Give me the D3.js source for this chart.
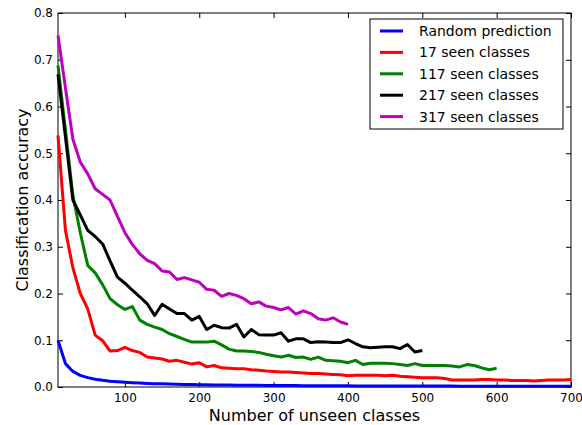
<!DOCTYPE html>
<html>
<head>
<meta charset="utf-8">
<script src="https://cdn.jsdelivr.net/npm/d3@7"></script>
<style>
  body { margin: 0; background: #fff; }
  text { font-family: "DejaVu Sans", sans-serif; }
</style>
</head>
<body>
<svg id="chart" width="582" height="425"></svg>
<script>
// number of unseen classes, step 10
const step = 10;
const xTicks = [100, 200, 300, 400, 500, 600, 700];
const yTicks = [0.0, 0.1, 0.2, 0.3, 0.4, 0.5, 0.6, 0.7, 0.8];

const seriesNames = ['Random prediction', '17 seen classes', '117 seen classes', '217 seen classes', '317 seen classes'];
const seriesColors = ['#0000ff', '#ff0000', '#008000', '#000000', '#bf00bf'];

// values, x = 10, 20, 30, ...
const randomPred = [
  0.1, 0.05, 0.0333, 0.025, 0.02, 0.0167, 0.0143, 0.0125, 0.0111, 0.01,
  0.0091, 0.0083, 0.0077, 0.0071, 0.0067, 0.0063, 0.0059, 0.0056, 0.0053, 0.005,
  0.0048, 0.0045, 0.0043, 0.0042, 0.004, 0.0038, 0.0037, 0.0036, 0.0034, 0.0033,
  0.0032, 0.0031, 0.003, 0.0029, 0.0029, 0.0028, 0.0027, 0.0026, 0.0026, 0.0025,
  0.0024, 0.0024, 0.0023, 0.0023, 0.0022, 0.0022, 0.0021, 0.0021, 0.002, 0.002,
  0.002, 0.0019, 0.0019, 0.0019, 0.0018, 0.0018, 0.0018, 0.0017, 0.0017, 0.0017,
  0.0016, 0.0016, 0.0016, 0.0016, 0.0015, 0.0015, 0.0015, 0.0015, 0.0014, 0.0014
];
const seen17 = [
  0.538, 0.335, 0.255, 0.2, 0.167, 0.111, 0.099, 0.077, 0.078, 0.085,
  0.078, 0.074, 0.064, 0.062, 0.06, 0.055, 0.057, 0.053, 0.049, 0.052,
  0.043, 0.046, 0.041, 0.04, 0.039, 0.039, 0.037, 0.036, 0.034, 0.033,
  0.032, 0.032, 0.031, 0.03, 0.029, 0.029, 0.028, 0.027, 0.026, 0.024,
  0.025, 0.025, 0.025, 0.025, 0.024, 0.025, 0.023, 0.022, 0.021, 0.02,
  0.02, 0.02, 0.018, 0.015, 0.015, 0.015, 0.015, 0.016, 0.016, 0.015,
  0.015, 0.014, 0.014, 0.014, 0.013, 0.014, 0.015, 0.015, 0.015, 0.016
];
const seen117 = [
  0.688, 0.55, 0.41, 0.33, 0.26, 0.244, 0.219, 0.189, 0.176, 0.166,
  0.172, 0.143, 0.134, 0.128, 0.123, 0.114, 0.108, 0.102, 0.096, 0.096,
  0.096, 0.098, 0.09, 0.081, 0.077, 0.077, 0.076, 0.074, 0.07, 0.067,
  0.064, 0.068, 0.063, 0.064, 0.059, 0.064, 0.057, 0.056, 0.055, 0.052,
  0.057, 0.048, 0.051, 0.051, 0.051, 0.05, 0.048, 0.046, 0.05, 0.046,
  0.046, 0.046, 0.046, 0.045, 0.043, 0.048, 0.046, 0.041, 0.037, 0.04
];
const seen217 = [
  0.669, 0.535, 0.40, 0.368, 0.335, 0.322, 0.306, 0.27, 0.235, 0.222,
  0.207, 0.193, 0.178, 0.153, 0.177, 0.167, 0.157, 0.157, 0.143, 0.151,
  0.123, 0.132, 0.127, 0.126, 0.134, 0.107, 0.123, 0.112, 0.111, 0.111,
  0.116, 0.098, 0.103, 0.103, 0.095, 0.097, 0.096, 0.095, 0.095, 0.101,
  0.093, 0.086, 0.084, 0.085, 0.086, 0.086, 0.082, 0.091, 0.075, 0.078
];
const seen317 = [
  0.752, 0.64, 0.53, 0.481, 0.456, 0.424, 0.412, 0.40, 0.365, 0.33,
  0.305, 0.285, 0.271, 0.264, 0.248, 0.246, 0.23, 0.234, 0.229, 0.224,
  0.209, 0.207, 0.194, 0.2, 0.196, 0.189, 0.178, 0.182, 0.173, 0.17,
  0.165, 0.17, 0.156, 0.163, 0.157, 0.146, 0.143, 0.148, 0.139, 0.134
];

const allSeries = [randomPred, seen17, seen117, seen217, seen317];

const margin = { top: 13, right: 11, bottom: 38, left: 58 };
const width = 582 - margin.left - margin.right;
const height = 425 - margin.top - margin.bottom;

const svg = d3.select('#chart');
const g = svg.append('g').attr('transform', `translate(${margin.left},${margin.top})`);

const x = d3.scaleLinear().domain([10, 700]).range([0, width]);
const y = d3.scaleLinear().domain([0, 0.8]).range([height, 0]);

// ticks pointing inward on all four sides
const tickLen = 5;
g.append('g')
  .attr('transform', `translate(0,${height})`)
  .call(d3.axisBottom(x).tickValues(xTicks).tickSizeInner(-tickLen).tickSizeOuter(0).tickPadding(6).tickFormat(d3.format('d')))
  .call(a => a.select('.domain').remove());
g.append('g')
  .call(d3.axisTop(x).tickValues(xTicks).tickSizeInner(-tickLen).tickSizeOuter(0).tickFormat(''))
  .call(a => a.select('.domain').remove());
g.append('g')
  .call(d3.axisLeft(y).tickValues(yTicks).tickSizeInner(-tickLen).tickSizeOuter(0).tickPadding(5).tickFormat(d3.format('.1f')))
  .call(a => a.select('.domain').remove());
g.append('g')
  .attr('transform', `translate(${width},0)`)
  .call(d3.axisRight(y).tickValues(yTicks).tickSizeInner(-tickLen).tickSizeOuter(0).tickFormat(''))
  .call(a => a.select('.domain').remove());

g.selectAll('.tick text').attr('font-size', 12).attr('fill', '#000').attr('font-family', 'DejaVu Sans');
g.selectAll('.tick line').attr('stroke', '#000');

g.append('rect')
  .attr('width', width).attr('height', height)
  .attr('fill', 'none').attr('stroke', '#000').attr('stroke-width', 1);

const line = d3.line()
  .x((d, i) => x(10 + i * step))
  .y(d => y(d));

allSeries.forEach((s, k) => {
  g.append('path')
    .datum(s)
    .attr('d', line)
    .attr('fill', 'none')
    .attr('stroke', seriesColors[k])
    .attr('stroke-width', 3)
    .attr('stroke-linejoin', 'round');
});

// axis titles
svg.append('text')
  .attr('x', margin.left + width / 2).attr('y', 421)
  .attr('text-anchor', 'middle').attr('font-size', 16)
  .text('Number of unseen classes');
svg.append('text')
  .attr('transform', `translate(28,${margin.top + height / 2}) rotate(-90)`)
  .attr('text-anchor', 'middle').attr('font-size', 16)
  .text('Classification accuracy');

// legend
const legend = svg.append('g').attr('transform', 'translate(370,19)');
legend.append('rect')
  .attr('width', 193).attr('height', 110)
  .attr('fill', '#fff').attr('stroke', '#000').attr('stroke-width', 1);
seriesNames.forEach((name, k) => {
  const ly = 12 + k * 21.4;
  legend.append('line')
    .attr('x1', 10).attr('x2', 33).attr('y1', ly).attr('y2', ly)
    .attr('stroke', seriesColors[k]).attr('stroke-width', 3);
  legend.append('text')
    .attr('x', 49).attr('y', ly + 5)
    .attr('font-size', 14)
    .text(name);
});
</script>
</body>
</html>
